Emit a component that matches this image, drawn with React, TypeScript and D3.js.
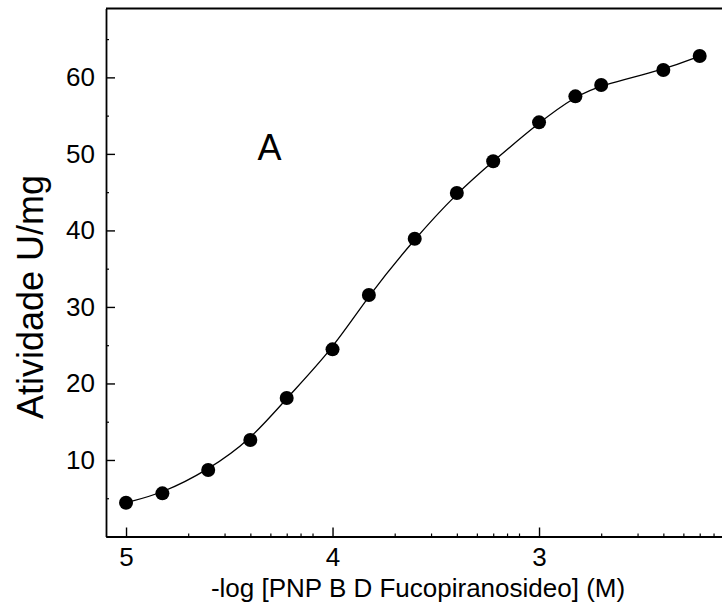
import React, { useEffect, useRef } from 'react';
import * as d3 from 'd3';

// -log[PNP B D Fucopiranosideo] (M) and activity (U/mg)
const logConc = [5, 4.824, 4.602, 4.398, 4.222, 4, 3.824, 3.602, 3.398, 3.222, 3, 2.824, 2.699, 2.398, 2.222];
const activity = [4.42, 5.64, 8.69, 12.61, 18.1, 24.46, 31.56, 38.91, 44.88, 49.03, 54.12, 57.52, 59.0, 60.96, 62.79];

const xMajor = [5, 4, 3];
const xMinorMult = [2, 3, 4, 5, 6, 7, 8];
const yMajor = [0, 10, 20, 30, 40, 50, 60];
const yMinor = [5, 15, 25, 35, 45, 55, 65];

const FONT = '"Liberation Sans", Arial, sans-serif';

const App = () => {
  const ref = useRef<SVGSVGElement>(null);

  useEffect(() => {
    const svg = d3.select(ref.current);
    svg.selectAll('*').remove();

    const width = 722, height = 611;
    const left = 106, top = 8.5, bottom = 536.5;

    const x = d3.scaleLinear().domain([5.097, 2.0]).range([left, left + 3.097 * 206.5]);
    const y = d3.scaleLinear().domain([0, 69]).range([bottom, top]);

    const xMinor: number[] = [];
    xMajor.forEach(d => xMinorMult.forEach(k => {
      const v = d - Math.log10(k);
      if (v > 2.0) xMinor.push(v);
    }));

    // frame top
    svg.append('line')
      .attr('x1', left).attr('x2', x(2.0))
      .attr('y1', y(69)).attr('y2', y(69))
      .attr('stroke', '#000').attr('stroke-width', 1.8);

    // minor ticks
    svg.append('g')
      .attr('transform', `translate(0,${bottom})`)
      .call(d3.axisBottom(x).tickValues(xMinor).tickSize(-3).tickSizeOuter(0).tickFormat(() => ''))
      .call(g => g.select('.domain').remove())
      .selectAll('line').attr('stroke-width', 1.2);

    svg.append('g')
      .attr('transform', `translate(${left},0)`)
      .call(d3.axisLeft(y).tickValues(yMinor).tickSize(-3).tickSizeOuter(0).tickFormat(() => ''))
      .call(g => g.select('.domain').remove())
      .selectAll('line').attr('stroke-width', 1.2);

    // x axis
    const gx = svg.append('g')
      .attr('transform', `translate(0,${bottom})`)
      .call(d3.axisBottom(x).tickValues(xMajor).tickSize(-9).tickSizeOuter(0).tickPadding(11).tickFormat(d3.format('d')));
    gx.select('.domain').attr('stroke-width', 1.8);
    gx.selectAll('line').attr('stroke-width', 1.4);
    gx.selectAll('text').style('font-size', '26px').style('font-family', FONT).attr('fill', '#000');

    // y axis
    const gy = svg.append('g')
      .attr('transform', `translate(${left},0)`)
      .call(d3.axisLeft(y).tickValues(yMajor).tickSize(-9).tickSizeOuter(0).tickPadding(11)
        .tickFormat(d => (d === 0 ? '' : String(d))));
    gy.select('.domain').attr('stroke-width', 1.8);
    gy.selectAll('line').attr('stroke-width', 1.4);
    gy.selectAll('text').style('font-size', '26px').style('font-family', FONT).attr('fill', '#000');

    const pts = logConc.map((v, i) => ({ x: v, y: activity[i] }));

    // fitted curve
    const line = d3.line<{ x: number; y: number }>()
      .x(d => x(d.x))
      .y(d => y(d.y))
      .curve(d3.curveBasis);

    svg.append('path')
      .datum(pts)
      .attr('d', line)
      .attr('fill', 'none')
      .attr('stroke', '#000')
      .attr('stroke-width', 1.3);

    svg.append('g')
      .selectAll('circle')
      .data(pts)
      .join('circle')
      .attr('cx', d => x(d.x))
      .attr('cy', d => y(d.y))
      .attr('r', 7)
      .attr('fill', '#000');

    // labels
    svg.append('text')
      .attr('x', 269.5).attr('y', 160)
      .attr('text-anchor', 'middle')
      .style('font-family', FONT).style('font-size', '36px')
      .text('A');

    svg.append('text')
      .attr('transform', `translate(43,297) rotate(-90)`)
      .attr('text-anchor', 'middle')
      .style('font-family', FONT).style('font-size', '36px')
      .text('Atividade U/mg');

    svg.append('text')
      .attr('x', 418).attr('y', 596.5)
      .attr('text-anchor', 'middle')
      .style('font-family', FONT).style('font-size', '26px')
      .text('-log [PNP B D Fucopiranosideo] (M)');

    svg.attr('width', width).attr('height', height);
  }, []);

  return (
    <svg
      ref={ref}
      width={722}
      height={611}
      style={{ position: 'absolute', left: 0, top: 0, background: '#fff', overflow: 'hidden' }}
    />
  );
};

export default App;
